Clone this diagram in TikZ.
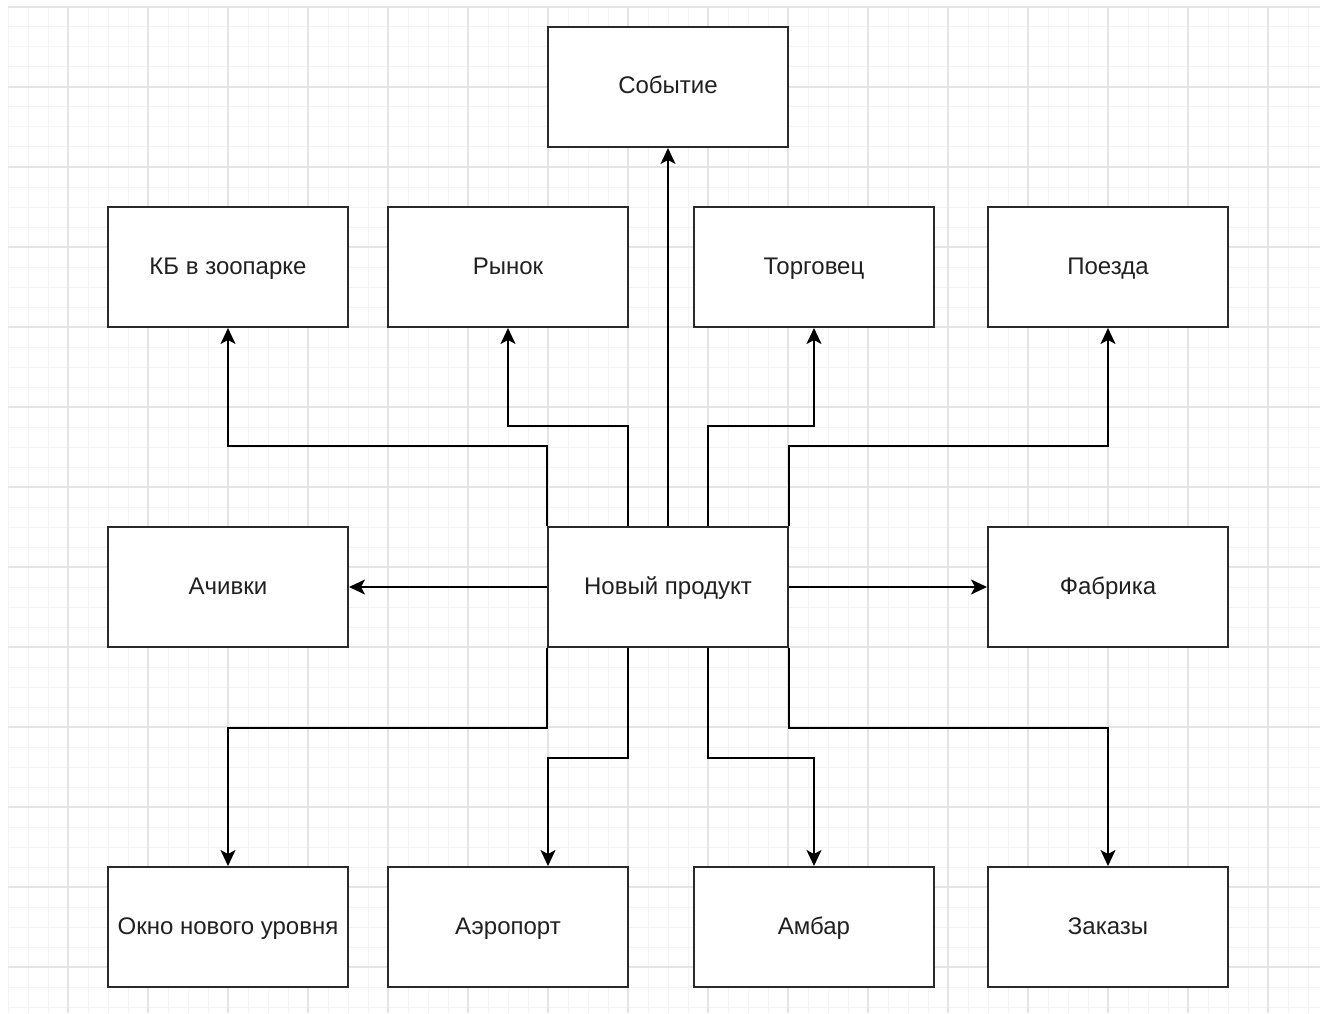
\documentclass[tikz,border=0pt]{standalone}
\usepackage{fontspec}
\setmainfont{Liberation Sans}
\usetikzlibrary{arrows.meta}
\definecolor{gridminor}{HTML}{F3F3F3}
\definecolor{gridmajor}{HTML}{E4E4E4}
\definecolor{boxline}{HTML}{2A2A2A}
\definecolor{txt}{HTML}{202020}
\tikzset{
  box/.style={draw=boxline, line width=2pt, fill=white, minimum width=240pt, minimum height=120pt, inner sep=0pt, text height=17pt, text depth=3pt, font=\fontsize{24pt}{28pt}\selectfont, text=txt},
  conn/.style={draw=black, line width=2pt, -{Stealth[length=16pt, width=15pt, inset=4pt]}},
}
\begin{document}
\begin{tikzpicture}[x=1pt,y=-1pt]
\useasboundingbox (0,0) rectangle (1320,1014);
\fill[white] (0,0) rectangle (1320,1014);
% grid
\foreach \i in {0,...,65} {
  \pgfmathsetmacro{\xx}{8+20*\i}
  \draw[gridminor, line width=1pt] (\xx,6) -- (\xx,1013);
}
\foreach \j in {0,...,50} {
  \pgfmathsetmacro{\yy}{7+20*\j}
  \draw[gridminor, line width=1pt] (8,\yy) -- (1320,\yy);
}
\foreach \i in {0,...,16} {
  \pgfmathsetmacro{\xx}{68+80*\i}
  \draw[gridmajor, line width=1.2pt] (\xx,6) -- (\xx,1013);
}
\foreach \j in {0,...,12} {
  \pgfmathsetmacro{\yy}{7+80*\j}
  \draw[gridmajor, line width=1.2pt] (8,\yy) -- (1320,\yy);
}
% nodes
\node[box] (sob) at (668,87) {Событие};
\node[box] (kb) at (228,267) {КБ в зоопарке};
\node[box] (ryn) at (508,267) {Рынок};
\node[box] (torg) at (814,267) {Торговец};
\node[box] (poezd) at (1108,267) {Поезда};
\node[box] (ach) at (228,587) {Ачивки};
\node[box] (new) at (668,587) {Новый продукт};
\node[box] (fab) at (1108,587) {Фабрика};
\node[box] (okno) at (228,927) {Окно нового уровня};
\node[box] (aero) at (508,927) {Аэропорт};
\node[box] (ambar) at (814,927) {Амбар};
\node[box] (zak) at (1108,927) {Заказы};
% connectors
\draw[conn] (new.north west) -- ++(0,-80) -| (kb.south);
\draw[conn] ([xshift=-40pt]new.north) -- ++(0,-100) -| (ryn.south);
\draw[conn] (new.north) -- (sob.south);
\draw[conn] ([xshift=40pt]new.north) -- ++(0,-100) -| (torg.south);
\draw[conn] (new.north east) -- ++(0,-80) -| (poezd.south);
\draw[conn] (new.west) -- (ach.east);
\draw[conn] (new.east) -- (fab.west);
\draw[conn] (new.south west) -- ++(0,80) -| (okno.north);
\draw[conn] ([xshift=-40pt]new.south) -- ++(0,110) -| ([xshift=40pt]aero.north);
\draw[conn] ([xshift=40pt]new.south) -- ++(0,110) -| (ambar.north);
\draw[conn] (new.south east) -- ++(0,80) -| (zak.north);
\end{tikzpicture}
\end{document}
